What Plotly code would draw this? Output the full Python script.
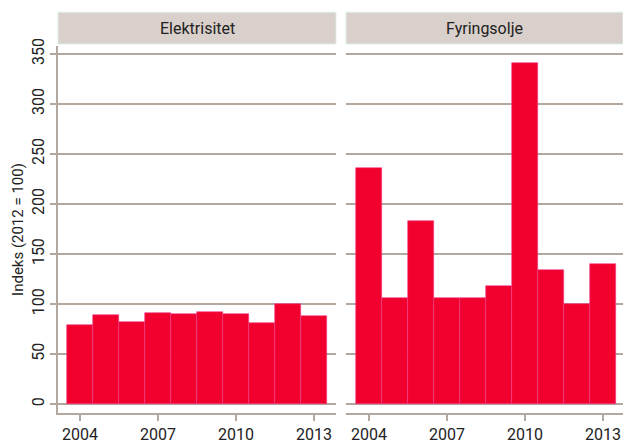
import plotly.graph_objects as go

years = [2004, 2005, 2006, 2007, 2008, 2009, 2010, 2011, 2012, 2013]
elektrisitet = [79, 89.5, 82.5, 91, 90.5, 92, 90.5, 81, 100, 88.5]
fyringsolje = [235.5, 106, 183, 106, 106.5, 118, 340.5, 134, 100.5, 140]
panel_titles = ["Elektrisitet", "Fyringsolje"]
x_ticks = [2004, 2007, 2010, 2013]
y_ticks = [0, 50, 100, 150, 200, 250, 300, 350]

BAR = "#F2002E"
GRID = "#B3A8A0"
TXT = "#222222"
FONT = "Roboto"

fig = go.Figure()
L, R, T, B, W, H = 58, 0, 46, 29, 623, 444
pw = W - L - R
dom1 = [0, (336 - L) / pw]
dom2 = [(346 - L) / pw, 1]

for i, (vals, dom) in enumerate([(elektrisitet, dom1), (fyringsolje, dom2)]):
    sfx = "" if i == 0 else "2"
    fig.add_trace(go.Bar(
        x=years, y=vals, width=1,
        marker=dict(color=BAR, line=dict(color="#F0408A", width=0.6)),
        xaxis="x" + sfx, yaxis="y" + sfx, showlegend=False,
    ))

common_x = dict(tickvals=x_ticks, ticks="outside", ticklen=6, tickwidth=2, tickcolor=GRID,
                showline=True, linecolor=GRID, linewidth=2, showgrid=False, zeroline=False,
                tickfont=dict(family=FONT, size=16, color=TXT))
fig.update_layout(
    xaxis=dict(domain=dom1, range=[2003.154, 2013.846], anchor="y", **common_x),
    xaxis2=dict(domain=dom2, range=[2003.115, 2013.77], anchor="y2", **common_x),
    yaxis=dict(domain=[0, 1], range=[-8.95, 357.95], tickvals=y_ticks, ticks="outside", ticklen=6,
               tickwidth=2, tickcolor=GRID, showline=True, linecolor=GRID, linewidth=2,
               showgrid=True, gridcolor=GRID, gridwidth=2, zeroline=False, tickangle=-90,
               tickfont=dict(family=FONT, size=16, color=TXT), anchor="x",
               title=dict(text="Indeks (2012 = 100)", font=dict(family=FONT, size=15, color=TXT), standoff=1)),
    yaxis2=dict(domain=[0, 1], range=[-8.95, 357.95], tickvals=y_ticks, showticklabels=False,
                showline=False, showgrid=True, gridcolor=GRID, gridwidth=2, zeroline=False, anchor="x2"),
    width=W, height=H, margin=dict(l=L, r=R, t=T, b=B),
    plot_bgcolor="white", paper_bgcolor="white", bargap=0,
)

# strip headers
y0 = 1 + (46 - 44) / (H - T - B)
y1 = 1 + (46 - 12) / (H - T - B)
for dom, title in zip([dom1, dom2], panel_titles):
    fig.add_shape(type="rect", xref="paper", yref="paper", x0=dom[0], x1=dom[1], y0=y0, y1=y1,
                  fillcolor="#D9D0CB", line=dict(color="#DDEFE8", width=1))
    fig.add_annotation(xref="paper", yref="paper", x=(dom[0] + dom[1]) / 2, y=(y0 + y1) / 2,
                       text=title, showarrow=False, font=dict(family=FONT, size=16, color=TXT),
                       xanchor="center", yanchor="middle")

fig.write_html("out.html", config={"displayModeBar": False},
               post_script="document.body.style.margin='0';document.body.style.overflow='hidden';")
